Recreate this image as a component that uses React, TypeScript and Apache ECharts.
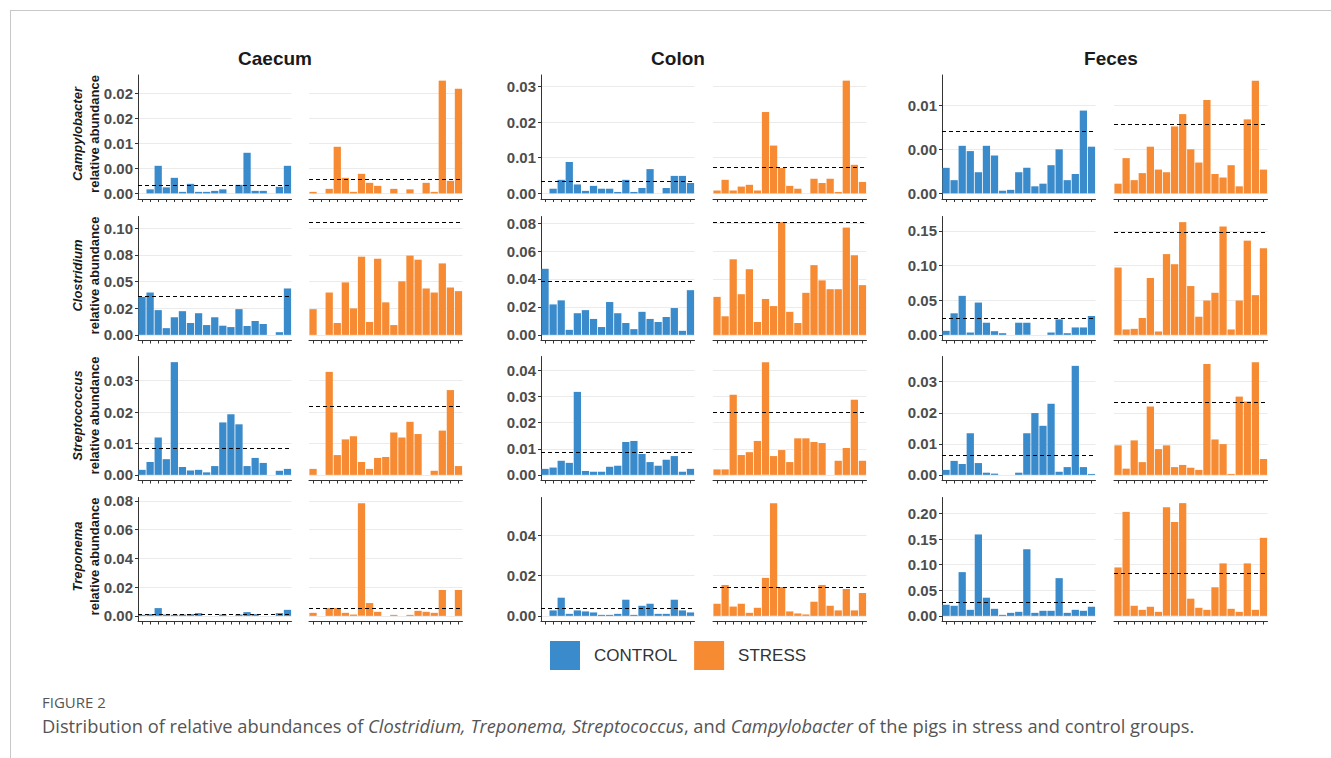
import React, { useEffect, useRef } from "react";
import * as echarts from "echarts";

const tissues = ["Caecum", "Colon", "Feces"];
const genera = ["Campylobacter", "Clostridium", "Streptococcus", "Treponema"];
const groups = ["CONTROL", "STRESS"];
const groupColors = ["#3A8BCB", "#F68B33"];
const samples = ["P1", "P2", "P3", "P4", "P5", "P6", "P7", "P8", "P9", "P10", "P11", "P12", "P13", "P14", "P15", "P16", "P17", "P18", "P19"];

// ---- Caecum ----
const caecumCampyControl = [0, 0.0008, 0.0055, 0.0012, 0.0031, 0.0003, 0.0019, 0.0003, 0.0003, 0.0005, 0.0008, 0, 0.0017, 0.0081, 0.0005, 0.0005, 0, 0.0013, 0.0055];
const caecumCampyStress = [0.0003, 0, 0.0009, 0.0093, 0.0031, 0.0003, 0.0039, 0.0021, 0.0015, 0, 0.0009, 0, 0.0008, 0, 0.0021, 0.0003, 0.0225, 0.0025, 0.0209];
const caecumClostControl = [0.0356, 0.0397, 0.0232, 0.0063, 0.0165, 0.0222, 0.0111, 0.0203, 0.0092, 0.0165, 0.0086, 0.0073, 0.0241, 0.0083, 0.013, 0.0102, 0, 0.0025, 0.0435];
const caecumClostStress = [0.0241, 0, 0.0397, 0.0111, 0.0492, 0.0248, 0.0733, 0.0121, 0.0714, 0.0305, 0.0092, 0.0502, 0.0743, 0.0705, 0.0435, 0.0397, 0.067, 0.0444, 0.041];
const caecumStrepControl = [0.0016, 0.0041, 0.0119, 0.005, 0.0359, 0.0025, 0.0014, 0.0016, 0.0008, 0.0028, 0.0167, 0.0193, 0.0161, 0.0028, 0.0054, 0.0038, 0, 0.0013, 0.0019];
const caecumStrepStress = [0.0019, 0, 0.0328, 0.0063, 0.0113, 0.0123, 0.0041, 0.0019, 0.0054, 0.0057, 0.0135, 0.0119, 0.0169, 0.013, 0, 0.0013, 0.0141, 0.027, 0.0028];
const caecumTrepControl = [0.0007, 0.0012, 0.0054, 0.0009, 0.0007, 0.0009, 0.0012, 0.0019, 0, 0, 0.0009, 0, 0.0009, 0.0026, 0.0012, 0, 0, 0.0019, 0.0042];
const caecumTrepStress = [0.0021, 0, 0.0054, 0.0054, 0.0021, 0.0009, 0.0784, 0.0089, 0.0028, 0, 0.0007, 0, 0.0007, 0.0035, 0.0028, 0.0021, 0.018, 0, 0.018];
const caecumDashControl = [0.0017, 0.0365, 0.0084, 0.0014];
const caecumDashStress = [0.0029, 0.1057, 0.022, 0.0054];

// ---- Colon ----
const colonCampyControl = [0, 0.0013, 0.0038, 0.0088, 0.0025, 0.0007, 0.0021, 0.0013, 0.0013, 0.0004, 0.0038, 0.0004, 0.0015, 0.0068, 0, 0.0015, 0.0049, 0.0049, 0.0029];
const colonCampyStress = [0.0008, 0.0038, 0.0008, 0.0019, 0.0024, 0.0008, 0.0228, 0.0134, 0.0071, 0.0021, 0.0013, 0, 0.0041, 0.0029, 0.0041, 0.0004, 0.0316, 0.008, 0.0032];
const colonClostControl = [0.0473, 0.0218, 0.0247, 0.0036, 0.0155, 0.0177, 0.0114, 0.0056, 0.0235, 0.0155, 0.0085, 0.0041, 0.0165, 0.0114, 0.0092, 0.0128, 0.0192, 0.0029, 0.032];
const colonClostStress = [0.0272, 0.0133, 0.0541, 0.0291, 0.047, 0.0092, 0.0257, 0.0206, 0.0807, 0.0165, 0.0085, 0.0301, 0.0499, 0.039, 0.0327, 0.0327, 0.0768, 0.057, 0.0356];
const colonStrepControl = [0.0023, 0.0028, 0.0054, 0.0046, 0.0318, 0.0015, 0.0012, 0.0012, 0.0031, 0.0035, 0.0126, 0.013, 0.008, 0.0049, 0.0035, 0.0058, 0.0072, 0.0012, 0.0023];
const colonStrepStress = [0.0021, 0.0021, 0.0307, 0.0076, 0.0087, 0.013, 0.0432, 0.0072, 0.0095, 0.0049, 0.014, 0.014, 0.0126, 0.0122, 0, 0.0054, 0.0103, 0.0288, 0.0054];
const colonTrepControl = [0, 0.0027, 0.009, 0.001, 0.0027, 0.0022, 0.0017, 0.0005, 0.0005, 0.001, 0.008, 0.0005, 0.005, 0.006, 0.001, 0.001, 0.008, 0.0027, 0.0017];
const colonTrepStress = [0.006, 0.0153, 0.0046, 0.006, 0.0015, 0.004, 0.0188, 0.0558, 0.0143, 0.0022, 0.0012, 0.0007, 0.007, 0.0153, 0.005, 0.0027, 0.0133, 0.0027, 0.0113];
const colonDashControl = [0.0034, 0.0381, 0.0087, 0.004];
const colonDashStress = [0.0073, 0.0807, 0.0239, 0.0143];

// ---- Feces ----
const fecesCampyControl = [0.0029, 0.0015, 0.0054, 0.0048, 0.0024, 0.0054, 0.0043, 0.0003, 0.0004, 0.0024, 0.0029, 0.0008, 0.0011, 0.0032, 0.005, 0.0015, 0.0022, 0.0094, 0.0053];
const fecesCampyStress = [0.0011, 0.004, 0.0015, 0.0023, 0.0053, 0.0027, 0.0024, 0.0076, 0.009, 0.005, 0.0035, 0.0106, 0.0022, 0.0018, 0.0032, 0.0008, 0.0084, 0.0128, 0.0027];
const fecesClostControl = [0.0058, 0.0311, 0.0563, 0.0034, 0.0466, 0.0175, 0.0053, 0.0024, 0, 0.0175, 0.0175, 0, 0, 0.0034, 0.0223, 0.0024, 0.0107, 0.0107, 0.0272];
const fecesClostStress = [0.0971, 0.0078, 0.0087, 0.0243, 0.082, 0.0049, 0.1165, 0.1019, 0.1626, 0.0704, 0.0262, 0.0495, 0.0607, 0.1563, 0.0078, 0.0495, 0.1359, 0.0573, 0.1248];
const fecesStrepControl = [0.0016, 0.0045, 0.0035, 0.0134, 0.0038, 0.0007, 0.0004, 0, 0, 0.0007, 0.0134, 0.0199, 0.0158, 0.0229, 0.001, 0.0025, 0.0351, 0.0025, 0.0003];
const fecesStrepStress = [0.0095, 0.002, 0.0111, 0.0041, 0.022, 0.0083, 0.0095, 0.0025, 0.0032, 0.0023, 0.0016, 0.0357, 0.0114, 0.0099, 0.0003, 0.0252, 0.0236, 0.0363, 0.0051];
const fecesTrepControl = [0.0217, 0.0197, 0.0855, 0.0118, 0.1592, 0.0355, 0.0138, 0.002, 0.0059, 0.0079, 0.1303, 0.0059, 0.0099, 0.0099, 0.0737, 0.0059, 0.0118, 0.0099, 0.0178];
const fecesTrepStress = [0.0947, 0.2033, 0.0197, 0.0118, 0.0178, 0.0079, 0.2125, 0.1836, 0.2204, 0.0336, 0.0158, 0.0118, 0.0559, 0.1026, 0.0138, 0.0079, 0.1026, 0.0118, 0.1526];
const fecesDashControl = [0.0071, 0.0238, 0.0063, 0.027];
const fecesDashStress = [0.0079, 0.148, 0.0235, 0.0829];

// ---- y tick values and labels (per genus row) ----
const caecumTicks = [[0, 0.005, 0.01, 0.015, 0.02], [0, 0.025, 0.05, 0.075, 0.1], [0, 0.01, 0.02, 0.03], [0, 0.02, 0.04, 0.06, 0.08]];
const caecumTickLabels = [["0.00", "0.00", "0.01", "0.02", "0.02"], ["0.00", "0.02", "0.05", "0.08", "0.10"], ["0.00", "0.01", "0.02", "0.03"], ["0.00", "0.02", "0.04", "0.06", "0.08"]];
const colonTicks = [[0, 0.01, 0.02, 0.03], [0, 0.02, 0.04, 0.06, 0.08], [0, 0.01, 0.02, 0.03, 0.04], [0, 0.02, 0.04]];
const colonTickLabels = [["0.00", "0.01", "0.02", "0.03"], ["0.00", "0.02", "0.04", "0.06", "0.08"], ["0.00", "0.01", "0.02", "0.03", "0.04"], ["0.00", "0.02", "0.04"]];
const fecesTicks = [[0, 0.005, 0.01], [0, 0.05, 0.1, 0.15], [0, 0.01, 0.02, 0.03], [0, 0.05, 0.1, 0.15, 0.2]];
const fecesTickLabels = [["0.00", "0.00", "0.01"], ["0.00", "0.05", "0.10", "0.15"], ["0.00", "0.01", "0.02", "0.03"], ["0.00", "0.05", "0.10", "0.15", "0.20"]];

const panelValues = [
  [[caecumCampyControl, caecumCampyStress], [caecumClostControl, caecumClostStress], [caecumStrepControl, caecumStrepStress], [caecumTrepControl, caecumTrepStress]],
  [[colonCampyControl, colonCampyStress], [colonClostControl, colonClostStress], [colonStrepControl, colonStrepStress], [colonTrepControl, colonTrepStress]],
  [[fecesCampyControl, fecesCampyStress], [fecesClostControl, fecesClostStress], [fecesStrepControl, fecesStrepStress], [fecesTrepControl, fecesTrepStress]],
];
const panelDash = [
  [caecumDashControl, caecumDashStress],
  [colonDashControl, colonDashStress],
  [fecesDashControl, fecesDashStress],
];
const panelTicks = [caecumTicks, colonTicks, fecesTicks];
const panelTickLabels = [caecumTickLabels, colonTickLabels, fecesTickLabels];

// ---- layout ----
const FONT = "'Liberation Sans', Arial, sans-serif";
const CAPFONT = "'Open Sans', 'Noto Sans', sans-serif";
const colLefts = [[138, 309], [541, 713], [942, 1114]];
const panelW = 153.5;
const rowTops = [75, 216.5, 356.5, 497.5];
const panelH = 124;
const titleCenters = [275, 678, 1111];

function buildOption() {
  const grid: any[] = [];
  const xAxis: any[] = [];
  const yAxis: any[] = [];
  const series: any[] = [];
  let k = 0;
  for (let t = 0; t < tissues.length; t++) {
    for (let g = 0; g < genera.length; g++) {
      const pair = panelValues[t][g];
      const dashes = [panelDash[t][0][g], panelDash[t][1][g]];
      const M = Math.max(...pair[0], ...pair[1], ...dashes);
      const ticks = panelTicks[t][g];
      const labels = panelTickLabels[t][g];
      for (let s = 0; s < 2; s++) {
        grid.push({ left: colLefts[t][s], top: rowTops[g], width: panelW, height: panelH, containLabel: false });
        xAxis.push({
          type: "category",
          gridIndex: k,
          data: samples,
          boundaryGap: true,
          axisLine: { show: true, onZero: false, lineStyle: { color: "#333333", width: 1 } },
          axisTick: { show: true, alignWithLabel: true, interval: 0, length: 3, lineStyle: { color: "#333333", width: 1 } },
          axisLabel: { show: false },
          splitLine: { show: false },
        });
        yAxis.push({
          type: "value",
          gridIndex: k,
          min: -0.05 * M,
          max: 1.05 * M,
          axisLine: { show: s === 0, lineStyle: { color: "#333333", width: 1 } },
          axisTick: { show: s === 0, length: 3, customValues: ticks, lineStyle: { color: "#333333", width: 1 } },
          axisLabel: {
            show: s === 0,
            customValues: ticks,
            margin: 5,
            color: "#4D4D4D",
            fontSize: 15,
            fontWeight: "bold",
            fontFamily: FONT,
            formatter: (v: number) => {
              let best = 0;
              for (let j = 0; j < ticks.length; j++) if (Math.abs(ticks[j] - v) < Math.abs(ticks[best] - v)) best = j;
              return labels[best];
            },
          },
          splitLine: { show: true, lineStyle: { color: "#EBEBEB", width: 1 } },
        });
        series.push({
          type: "bar",
          name: groups[s],
          xAxisIndex: k,
          yAxisIndex: k,
          data: pair[s],
          barCategoryGap: "10%",
          itemStyle: { color: groupColors[s] },
          silent: true,
          markLine: {
            silent: true,
            symbol: "none",
            precision: 8,
            label: { show: false },
            lineStyle: { color: "#000000", type: [4, 3], width: 1.2 },
            data: [{ yAxis: dashes[s] }],
          },
        });
        k++;
      }
    }
  }

  const graphic: any[] = [];
  // frame lines
  graphic.push({ type: "line", shape: { x1: 10, y1: 10.5, x2: 1331, y2: 10.5 }, style: { stroke: "#C8C8C8", lineWidth: 1 } });
  graphic.push({ type: "line", shape: { x1: 10.5, y1: 10, x2: 10.5, y2: 758 }, style: { stroke: "#C8C8C8", lineWidth: 1 } });
  // column titles
  for (let t = 0; t < tissues.length; t++) {
    graphic.push({
      type: "text",
      x: titleCenters[t],
      y: 58,
      style: { text: tissues[t], fontSize: 19, fontWeight: "bold", fontFamily: FONT, fill: "#1A1A1A", align: "center", verticalAlign: "middle", textAlign: "center", textVerticalAlign: "middle" },
    });
  }
  // row titles
  for (let g = 0; g < genera.length; g++) {
    const cy = rowTops[g] + panelH / 2 - 3;
    graphic.push({
      type: "text",
      x: 77,
      y: cy,
      rotation: Math.PI / 2,
      style: { text: genera[g], fontSize: 13, fontWeight: "bold", fontStyle: "italic", fontFamily: FONT, fill: "#1A1A1A", align: "center", verticalAlign: "middle", textAlign: "center", textVerticalAlign: "middle" },
    });
    graphic.push({
      type: "text",
      x: 94,
      y: cy,
      rotation: Math.PI / 2,
      style: { text: "relative abundance", fontSize: 13, fontWeight: "bold", fontFamily: FONT, fill: "#1A1A1A", align: "center", verticalAlign: "middle", textAlign: "center", textVerticalAlign: "middle" },
    });
  }
  // caption
  graphic.push({
    type: "text",
    x: 42,
    y: 702,
    style: { text: "FIGURE 2", fontSize: 15, fontFamily: CAPFONT, fill: "#555555", align: "left", verticalAlign: "middle", textAlign: "left", textVerticalAlign: "middle" },
  });
  graphic.push({
    type: "text",
    x: 42,
    y: 725,
    style: {
      text: "{n|Distribution of relative abundances of }{i|Clostridium, Treponema, Streptococcus}{n|, and }{i|Campylobacter}{n| of the pigs in stress and control groups.}",
      fontSize: 18.3,
      fontFamily: CAPFONT,
      fill: "#555555",
      align: "left",
      verticalAlign: "middle",
      textAlign: "left",
      textVerticalAlign: "middle",
      rich: {
        n: { fontSize: 18.3, fontFamily: CAPFONT, fill: "#555555", color: "#555555" },
        i: { fontSize: 18.3, fontStyle: "italic", fontFamily: CAPFONT, fill: "#555555", color: "#555555" },
      },
    },
  });

  return {
    animation: false,
    backgroundColor: "#FFFFFF",
    legend: {
      data: groups,
      left: 550,
      top: 641,
      padding: 0,
      itemWidth: 30,
      itemHeight: 29,
      itemGap: 17,
      icon: "rect",
      selectedMode: false,
      textStyle: { fontSize: 17, color: "#333333", fontFamily: FONT, padding: [0, 0, 0, 9] },
    },
    grid,
    xAxis,
    yAxis,
    series,
    graphic,
  };
}

export default function App() {
  const ref = useRef<HTMLDivElement>(null);
  useEffect(() => {
    if (!ref.current) return;
    const chart = echarts.init(ref.current, undefined, { renderer: "svg" });
    chart.setOption(buildOption() as any);
    return () => chart.dispose();
  }, []);
  return <div ref={ref} style={{ position: "fixed", left: 0, top: 0, width: 1331, height: 758, background: "#fff" }} />;
}
